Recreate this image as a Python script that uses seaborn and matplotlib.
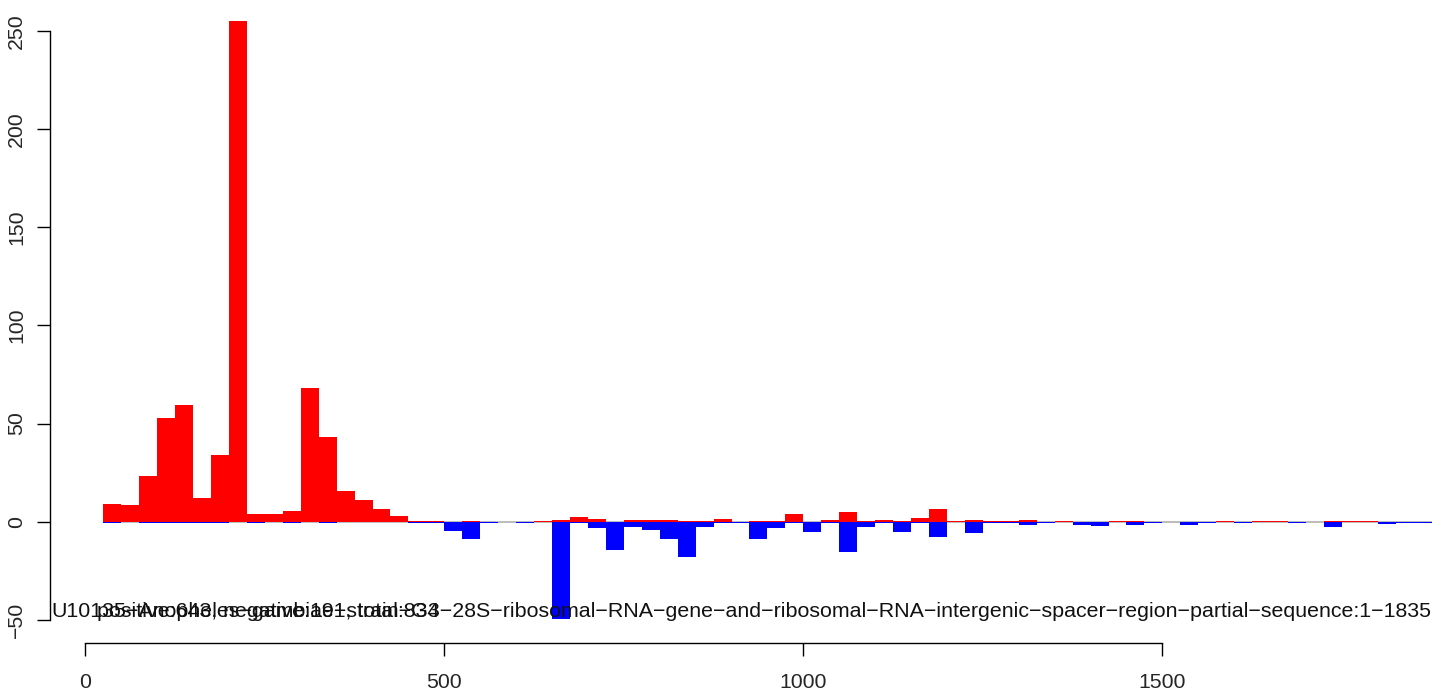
import matplotlib
matplotlib.use('Agg')
import matplotlib.pyplot as plt
import seaborn as sns
import numpy as np

# bins of 25 nt along the sequence, left edges 25 .. 1850
bin_width = 25
bin_left = [25 * k for k in range(1, 75)]

positive = [9.0, 8.5, 23.3, 52.8, 59.4, 12.1, 34.0, 255.0, 3.9, 3.9,
            5.4, 68.1, 43.2, 15.6, 11.1, 6.5, 2.9, 0.4, 0.4, 0.0,
            0.5, 0.0, 0.0, 0.0, 0.5, 1.0, 2.5, 1.5, 0.0, 1.0,
            1.0, 1.0, 0.5, 0.5, 1.3, 0.0, 0.5, 0.5, 3.9, 0.0,
            1.0, 4.9, 0.5, 0.7, 0.5, 1.7, 6.3, 0.5, 0.7, 0.5,
            0.5, 0.7, 0.0, 0.5, 0.0, 0.0, 0.5, 0.5, 0.0, 0.0,
            0.0, 0.0, 0.5, 0.0, 0.5, 0.5, 0.0, 0.0, 0.5, 0.5,
            0.5, 0.0, 0.0, 0.0]
negative = [-0.5, 0.0, -0.5, -0.5, -0.5, -0.5, -0.5, 0.0, -0.5, 0.0,
            -0.7, 0.0, -0.7, 0.0, 0.0, 0.0, 0.0, -0.4, -0.5, -4.6,
            -8.7, -0.5, 0.0, -0.4, 0.0, -49.4, -0.5, -3.0, -14.4, -2.5,
            -4.0, -8.7, -17.8, -2.5, -0.5, -0.5, -8.7, -3.1, -0.5, -5.1,
            -0.5, -15.3, -2.7, -0.5, -5.3, -0.5, -7.8, 0.0, -5.8, -0.5,
            -0.5, -1.9, -0.5, 0.0, -1.7, -2.2, 0.0, -1.7, -0.6, 0.0,
            -1.7, -0.5, 0.0, -0.5, 0.0, 0.0, -0.5, 0.0, -2.7, 0.0,
            0.0, -1.0, -0.5, -0.5]

y_ticks = [-50, 0, 50, 100, 150, 200, 250]
x_ticks = [0, 500, 1000, 1500]

title = ('U10135-Anopheles-gambiae-strain-G3-28S-ribosomal-RNA-gene-and-'
         'ribosomal-RNA-intergenic-spacer-region-partial-sequence:1-1835')
summary = 'positive:643, negative:191, total:834'

sns.set_style('white')
plt.rcParams['font.family'] = ['Liberation Sans', 'DejaVu Sans']
plt.rcParams['axes.unicode_minus'] = True

fig = plt.figure(figsize=(14.41, 6.90), dpi=100)
ax = fig.add_axes([50.1 / 1441, (690 - 642.5) / 690,
                   (1441 - 50.1) / 1441, (642.5 - 7.2) / 690])

edges = bin_left + [bin_left[-1] + bin_width]
centers = [b + bin_width / 2 for b in bin_left]

ax.hlines(0, edges[0], edges[-1], color='#b0b0b0', lw=1.2, zorder=0.5)
sns.histplot(x=centers, weights=positive, bins=edges, color='#ff0000',
             alpha=1, linewidth=0, ax=ax, zorder=2)
sns.histplot(x=centers, weights=negative, bins=edges, color='#0000ff',
             alpha=1, linewidth=0, ax=ax, zorder=3)

ax.set_xlim(-49, 1888)
ax.set_ylim(-61.5, 262.1)
ax.set_xlabel('')
ax.set_ylabel('')

for s in ['top', 'right']:
    ax.spines[s].set_visible(False)
ax.spines['bottom'].set_bounds(0, 1500)
ax.spines['left'].set_bounds(-50, 250)
for s in ['bottom', 'left']:
    ax.spines[s].set_color('black')
    ax.spines[s].set_linewidth(1.0)

ax.set_xticks(x_ticks)
ax.set_xticklabels([str(v) for v in x_ticks])
ax.set_yticks(y_ticks)
ax.set_yticklabels([str(v).replace('-', '\u2212') for v in y_ticks],
                   rotation=90, va='center')
ax.tick_params(axis='both', direction='out', length=9.4, width=1.0,
               color='black', labelsize=15.3, bottom=True, left=True)
ax.tick_params(axis='x', pad=12.5)
ax.tick_params(axis='y', pad=8)

ax.text(-47, -45.5, title.replace('-', '\u2212'), fontsize=15.4,
        ha='left', va='center', color='#111111')
ax.text(17, -45.5, summary, fontsize=15.4, ha='left', va='center',
        color='#111111')

fig.savefig('out.png', dpi=100)
